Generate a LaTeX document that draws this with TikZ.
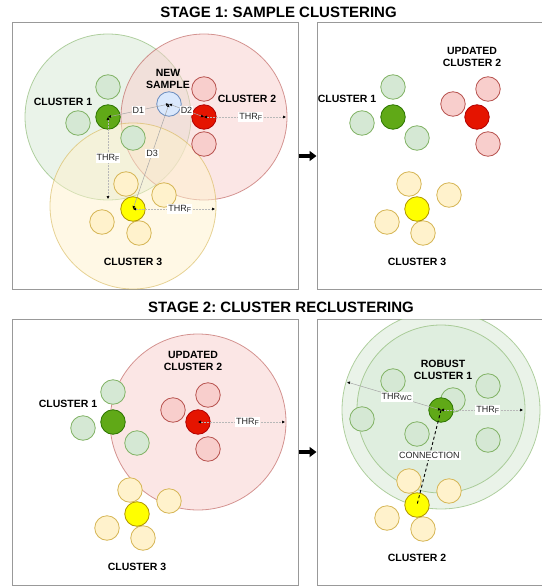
\documentclass[tikz,border=0pt]{standalone}
\usepackage{fontspec}
\setmainfont{Liberation Sans}
\usetikzlibrary{arrows.meta}
\frenchspacing

\definecolor{gfill}{HTML}{D5E8D4}\definecolor{gline}{HTML}{82B366}
\definecolor{gdark}{HTML}{60A917}\definecolor{gdarkline}{HTML}{2D7600}
\definecolor{rfill}{HTML}{F8CECC}\definecolor{rline}{HTML}{B85450}
\definecolor{rdark}{HTML}{E51400}\definecolor{rdarkline}{HTML}{B20000}
\definecolor{yfill}{HTML}{FFF2CC}\definecolor{yline}{HTML}{D6B656}
\definecolor{ydark}{HTML}{FFFF00}\definecolor{ydarkline}{HTML}{B09500}
\definecolor{bfill}{HTML}{DAE8FC}\definecolor{bline}{HTML}{6C8EBF}

% subscript for threshold names
\newcommand{\thrsub}[1]{\raisebox{-0.25ex}{\fontsize{7}{8}\selectfont #1}}

\tikzset{
  pt/.style={circle, minimum size=24.5pt, inner sep=0pt, line width=0.8pt},
  lg/.style={pt, fill=gfill, draw=gline},
  dg/.style={pt, fill=gdark, draw=gdarkline},
  lr/.style={pt, fill=rfill, draw=rline},
  dr/.style={pt, fill=rdark, draw=rdarkline},
  ly/.style={pt, fill=yfill, draw=yline},
  dy/.style={pt, fill=ydark, draw=ydarkline},
  nb/.style={pt, fill=bfill, draw=bline},
  zone/.style={circle, inner sep=0pt, minimum size=#1, fill opacity=0.5,
    draw opacity=0.6, line width=0.8pt},
  panel/.style={draw=black!40, line width=1pt, inner sep=0pt,
    minimum height=266pt, minimum width=#1},
  ttl/.style={font=\bfseries\fontsize{15}{17}\selectfont},
  clabel/.style={font=\bfseries\fontsize{10.5}{12.5}\selectfont, align=center},
  tipk/.tip={Latex[length=3pt,width=3pt,color=black]},
  dist/.style={draw=black!35, line width=0.5pt, tipk-tipk},
  radius line/.style={dist, draw=black!28, dash pattern=on 2pt off 1pt},
  dlabel/.style={fill=white, inner sep=1pt, text=black!85,
    font=\fontsize{9}{10}\selectfont},
  stagearrow/.style={line width=3.5pt, -{Triangle[length=7pt,width=10pt]}},
  link/.style={line width=0.9pt, dash pattern=on 3pt off 2.5pt},
}

\begin{document}
\begin{tikzpicture}[x=1pt, y=-1pt]
\useasboundingbox (0,0) rectangle (541,586);

% titles
\node[ttl] (t1) at (278.5,12) {STAGE 1: SAMPLE CLUSTERING};
\node[ttl] (t2) at (281,307) {STAGE 2: CLUSTER RECLUSTERING};

% panel frames
\node[panel=286pt] (p1) at (155,156) {};
\node[panel=228pt] (p2) at (431,156) {};
\node[panel=286pt] (p3) at (155,452) {};
\node[panel=228pt] (p4) at (431,452) {};

\draw[stagearrow] (p1.east) -- (p2.west);
\draw[stagearrow] (p3.east) -- (p4.west);

% ---------- stage 1, left: assigning the new sample ----------
\node[zone=166pt, fill=gfill, draw=gline] (z1) at (108,117) {};
\node[zone=166pt, fill=rfill, draw=rline] (z2) at (204,117) {};
\node[zone=166pt, fill=yfill, draw=yline] (z3) at (133,206) {};

\node[lg] (a1) at (108,87) {};
\node[lg] (a2) at (78,123) {};
\node[lg] (a3) at (133,138) {};
\node[dg] (ga) at (108,117) {};

\node[lr] (a4) at (204,89) {};
\node[lr] (a5) at (204,144) {};
\node[dr] (ra) at (204,117) {};

\node[nb] (ns) at (169,104) {};

\node[ly] (a6) at (126,184) {};
\node[ly] (a7) at (164,195) {};
\node[ly] (a8) at (102,222) {};
\node[ly] (a9) at (139,233) {};
\node[dy] (ya) at (133,209) {};

\coordinate (ea1) at (108,199);
\coordinate (ea2) at (286,117);
\coordinate (ea3) at (215,209);

\draw[dist] (ga.center) -- node[dlabel] {D1} (ns.center);
\draw[dist] (ns.center) -- node[dlabel] {D2} (ra.center);
\draw[dist] (ns.center) -- node[dlabel, pos=0.47] {D3} (ya.center);
\draw[radius line] (ga.center) -- node[dlabel] {THR\thrsub{F}} (ea1);
\draw[radius line] (ra.center) -- node[dlabel, pos=0.57] {THR\thrsub{F}} (ea2);
\draw[radius line] (ya.center) -- node[dlabel, pos=0.57] {THR\thrsub{F}} (ea3);

\node[clabel] (l1) at (63,102) {CLUSTER 1};
\node[clabel] (l2) at (247,99) {CLUSTER 2};
\node[clabel] (l3) at (133,262) {CLUSTER 3};
\node[clabel] (l4) at (168,79) {NEW\\SAMPLE};

% ---------- stage 1, right: clusters after assignment ----------
\node[lg] (b1) at (393,87) {};
\node[lg] (b2) at (362,123) {};
\node[lg] (b3) at (417,138) {};
\node[dg] (gb) at (393,117) {};

\node[lr] (b4) at (453,104) {};
\node[lr] (b5) at (488,89) {};
\node[lr] (b6) at (488,144) {};
\node[dr] (rb) at (477,117) {};

\node[ly] (b7) at (409,184) {};
\node[ly] (b8) at (449,195) {};
\node[ly] (b9) at (387,222) {};
\node[ly] (b10) at (423,233) {};
\node[dy] (yb) at (417,209) {};

\node[clabel] (m1) at (347,99) {CLUSTER 1};
\node[clabel] (m2) at (472,57) {UPDATED\\CLUSTER 2};
\node[clabel] (m3) at (417,262) {CLUSTER 3};

% ---------- stage 2, left: updated cluster radius ----------
\node[zone=176pt, fill=rfill, draw=rline] (z4) at (198,422) {};

\node[lg] (c1) at (113,392) {};
\node[lg] (c2) at (83,428) {};
\node[lg] (c3) at (137,443) {};
\node[dg] (gc) at (113,422) {};

\node[lr] (c4) at (173,410) {};
\node[lr] (c5) at (208,395) {};
\node[lr] (c6) at (208,449) {};
\node[dr] (rc) at (198,422) {};

\node[ly] (c7) at (130,490) {};
\node[ly] (c8) at (169,501) {};
\node[ly] (c9) at (107,528) {};
\node[ly] (c10) at (143,538) {};
\node[dy] (yc) at (137,514) {};

\coordinate (ec1) at (285,422);
\draw[radius line] (rc.center) -- node[dlabel, pos=0.57] {THR\thrsub{F}} (ec1);

\node[clabel] (n1) at (68,404) {CLUSTER 1};
\node[clabel] (n2) at (193,361) {UPDATED\\CLUSTER 2};
\node[clabel] (n3) at (137,567) {CLUSTER 3};

% ---------- stage 2, right: robust cluster and connection ----------
\begin{scope}
  \clip ([xshift=0.5pt,yshift=-0.5pt]p4.north west) rectangle (p4.south east);
  \node[zone=198pt, fill=gfill, draw=gline] (z5) at (441,410) {};
  \node[zone=168pt, fill=gfill, draw=gline] (z6) at (441,409) {};
\end{scope}

\node[lg] (d1) at (393,381) {};
\node[lg] (d2) at (453,400) {};
\node[lg] (d3) at (488,386) {};
\node[lg] (d4) at (362,419) {};
\node[lg] (d5) at (417,434) {};
\node[lg] (d6) at (488,440) {};
\node[dg] (gd) at (441,410) {};

\node[ly] (d7) at (409,481) {};
\node[ly] (d8) at (449,491) {};
\node[ly] (d9) at (387,518) {};
\node[ly] (d10) at (423,529) {};
\node[dy] (yd) at (417,505) {};

\coordinate (ed1) at (347,382);
\coordinate (ed2) at (523,410);
\draw[dist] (gd.center) -- node[dlabel, pos=0.47] {THR\thrsub{WC}} (ed1);
\draw[radius line] (gd.center) -- node[dlabel, pos=0.57] {THR\thrsub{F}} (ed2);
\draw[link] (gd.center) -- node[dlabel, pos=0.48] {CONNECTION} (yd.center);

\node[clabel] (o1) at (443,370) {ROBUST\\CLUSTER 1};
\node[clabel] (o2) at (417,558) {CLUSTER 2};
\end{tikzpicture}
\end{document}
